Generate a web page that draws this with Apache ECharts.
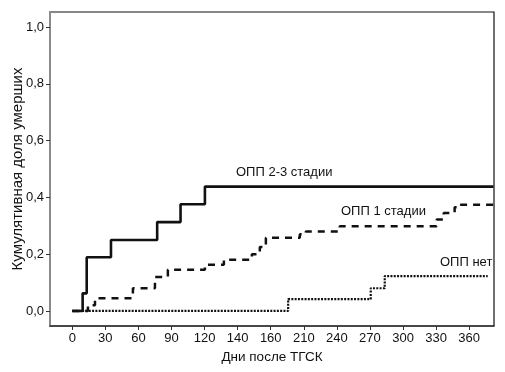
<!DOCTYPE html>
<html>
<head>
<meta charset="utf-8">
<script src="https://cdn.jsdelivr.net/npm/echarts@6/dist/echarts.min.js"></script>
<style>
  html, body { margin: 0; padding: 0; background: #fff; }
  #chart { width: 505px; height: 372px; }
</style>
</head>
<body>
<div id="chart"></div>
<script>
// x axis ticks are equally spaced, so times are in tick units (30 per tick)
var xTickLabels = ['0', '30', '60', '90', '120', '140', '160', '210', '240', '270', '300', '330', '360'];
var xTicks = [0, 30, 60, 90, 120, 150, 180, 210, 240, 270, 300, 330, 360];
var yTicks = [0, 0.2, 0.4, 0.6, 0.8, 1.0];

// ОПП 2-3 стадии
var severeT = [0, 9.4, 13.1, 35.1, 77.0, 98.2, 120.3, 382];
var severeV = [0, 0.062, 0.189, 0.25, 0.313, 0.376, 0.438, 0.438];

// ОПП 1 стадии
var stage1T = [0, 14.2, 20.6, 55, 75, 86.7, 120.3, 137.5, 162.9, 170.1, 175.6, 206.4, 211.8, 242.6, 330.5, 336.9, 346.8, 351.4, 382];
var stage1V = [0, 0.02, 0.045, 0.08, 0.12, 0.145, 0.163, 0.18, 0.2, 0.225, 0.258, 0.27, 0.28, 0.298, 0.322, 0.345, 0.365, 0.374, 0.374];

// ОПП нет
var noneT = [0, 195.8, 270.7, 283.4, 376.8];
var noneV = [0, 0.042, 0.08, 0.123, 0.123];

function pairs(t, v) {
    var out = [];
    for (var i = 0; i < t.length; i++) {
        out.push([t[i], v[i]]);
    }
    return out;
}

var font = 'Liberation Sans, Arial, sans-serif';
var chart = echarts.init(document.getElementById('chart'), null, {renderer: 'canvas'});

var option = {
    backgroundColor: '#fff',
    animation: false,
    grid: {
        left: 50,
        right: 11,
        top: 12,
        bottom: 46,
        outerBoundsMode: 'none',
        containLabel: false,
        show: true,
        borderColor: '#111',
        borderWidth: 1.2,
        backgroundColor: 'transparent'
    },
    xAxis: {
        type: 'value',
        min: -20.2,
        max: 382.5,
        name: 'Дни после ТГСК',
        nameLocation: 'middle',
        nameGap: 24,
        nameMoveOverlap: false,
        nameTextStyle: {color: '#111', fontSize: 13.5, fontFamily: font},
        axisLine: {show: true, onZero: false, lineStyle: {color: '#333', width: 1.5}},
        axisTick: {show: true, length: 4, customValues: xTicks, lineStyle: {color: '#333'}},
        axisLabel: {
            customValues: xTicks,
            color: '#111',
            fontSize: 13,
            fontFamily: font,
            margin: 6,
            formatter: function (v) {
                return xTickLabels[Math.round(v / 30)];
            }
        },
        splitLine: {show: false}
    },
    yAxis: {
        type: 'value',
        min: -0.053,
        max: 1.053,
        name: 'Кумулятивная доля умерших',
        nameLocation: 'middle',
        nameGap: 25,
        nameMoveOverlap: false,
        nameTextStyle: {color: '#111', fontSize: 15, fontFamily: font},
        axisLine: {show: true, onZero: false, lineStyle: {color: '#8a8a8a', width: 2}},
        axisTick: {show: true, length: 4, customValues: yTicks, lineStyle: {color: '#333'}},
        axisLabel: {
            customValues: yTicks,
            color: '#111',
            fontSize: 13,
            fontFamily: font,
            margin: 6,
            formatter: function (v) {
                return v.toFixed(1).replace('.', ',');
            }
        },
        splitLine: {show: false}
    },
    series: [
        {
            name: 'ОПП нет',
            type: 'line',
            step: 'end',
            showSymbol: false,
            data: pairs(noneT, noneV),
            lineStyle: {color: '#111', width: 2.2, type: [2, 1.3]},
            z: 2
        },
        {
            name: 'ОПП 1 стадии',
            type: 'line',
            step: 'end',
            showSymbol: false,
            data: pairs(stage1T, stage1V),
            lineStyle: {color: '#111', width: 2.5, type: [7, 6]},
            z: 3
        },
        {
            name: 'ОПП 2-3 стадии',
            type: 'line',
            step: 'end',
            showSymbol: false,
            data: pairs(severeT, severeV),
            lineStyle: {color: '#111', width: 2.6},
            z: 4
        }
    ],
    graphic: [
        {type: 'text', left: 236, top: 166, style: {text: 'ОПП 2-3 стадии', fill: '#111', font: '13px ' + font}},
        {type: 'text', left: 341, top: 205, style: {text: 'ОПП 1 стадии', fill: '#111', font: '13px ' + font}},
        {type: 'text', left: 440, top: 256, style: {text: 'ОПП нет', fill: '#111', font: '13px ' + font}}
    ]
};

chart.setOption(option);
</script>
</body>
</html>
